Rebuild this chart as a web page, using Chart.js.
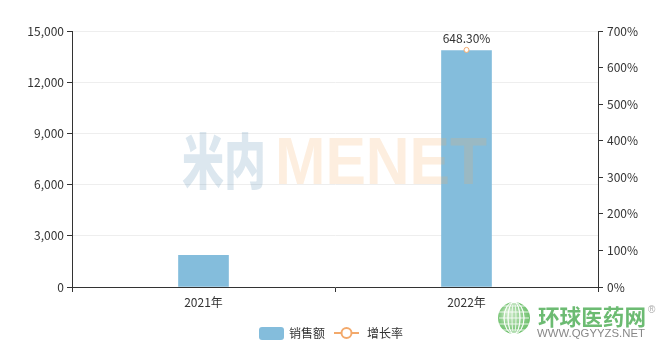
<!DOCTYPE html>
<html><head><meta charset="utf-8">
<script src="https://cdn.jsdelivr.net/npm/chart.js@4"></script>
<style>html,body{margin:0;padding:0;background:#fff}#wrap{width:669px;height:354px;position:relative}</style>
</head><body><div id="wrap"><canvas id="c" width="669" height="354"></canvas></div>
<script>
const categories = ['2021年', '2022年'];
const salesValues = [1850, 13850];
const growthValues = [null, 648.30];
const seriesNames = ['销售额', '增长率'];
const leftTicks = [0, 3000, 6000, 9000, 12000, 15000];
const rightTicks = [0, 100, 200, 300, 400, 500, 600, 700];

const FONT = '"Noto Sans CJK SC", "Noto Sans", sans-serif';
const BAR = '#84bddc';
const LINE = '#f3a96b';

const bgPlugin = {
  id: 'bg',
  afterDatasetsDraw(chart) {
    const ctx = chart.ctx;
    ctx.save();
    // watermark (semi-transparent, over the bars)
    ctx.textBaseline = 'alphabetic';
    ctx.font = '900 60px ' + FONT;
    ctx.fillStyle = 'rgba(80,135,175,0.2)';
    let w = ctx.measureText('米内').width;
    ctx.save(); ctx.translate(182, 184); ctx.scale(84 / w, 1); ctx.fillText('米内', 0, 0); ctx.restore();
    ctx.font = 'bold 66px "Liberation Sans", Arial, sans-serif';
    ctx.fillStyle = 'rgba(245,170,95,0.2)';
    w = ctx.measureText('MENET').width;
    ctx.save(); ctx.translate(275, 184); ctx.scale(212 / w, 1); ctx.fillText('MENET', 0, 0); ctx.restore();
    ctx.restore();
  },
  afterDraw(chart) {
    const ctx = chart.ctx;
    ctx.save();
    // data label for growth
    const meta = chart.getDatasetMeta(1);
    growthValues.forEach((v, i) => {
      if (v == null) return;
      const p = meta.data[i];
      ctx.font = '12px ' + FONT;
      ctx.fillStyle = '#333';
      ctx.textAlign = 'center';
      ctx.textBaseline = 'bottom';
      ctx.fillText(v.toFixed(2) + '%', p.x, p.y - 5);
    });
    // legend
    ctx.textAlign = 'left';
    ctx.textBaseline = 'middle';
    ctx.font = '12px ' + FONT;
    ctx.fillStyle = BAR;
    ctx.beginPath();
    ctx.roundRect(259, 327, 25, 13, 3);
    ctx.fill();
    ctx.fillStyle = '#333';
    ctx.fillText(seriesNames[0], 289, 333);
    ctx.strokeStyle = LINE; ctx.lineWidth = 2;
    ctx.beginPath(); ctx.moveTo(334, 333); ctx.lineTo(359, 333); ctx.stroke();
    ctx.fillStyle = '#fff';
    ctx.beginPath(); ctx.arc(346.5, 333, 5, 0, Math.PI * 2); ctx.fill(); ctx.stroke();
    ctx.fillStyle = '#333';
    ctx.fillText(seriesNames[1], 367, 333);
    // logo
    const g = ctx.createRadialGradient(508, 312, 2, 514, 318, 17);
    g.addColorStop(0, '#c8e8c4'); g.addColorStop(1, '#6cbf6a');
    ctx.fillStyle = g;
    ctx.beginPath(); ctx.arc(514, 318, 16, 0, Math.PI * 2); ctx.fill();
    ctx.strokeStyle = 'rgba(255,255,255,0.8)'; ctx.lineWidth = 1;
    for (let k = -2; k <= 2; k++) {
      ctx.beginPath(); ctx.ellipse(514, 318, Math.abs(k) * 4 + 2, 16, 0, 0, Math.PI * 2); ctx.stroke();
      ctx.beginPath(); ctx.moveTo(499, 318 + k * 6); ctx.lineTo(529, 318 + k * 6); ctx.stroke();
    }
    ctx.font = 'bold 22px ' + FONT;
    ctx.fillStyle = '#6cbb72';
    ctx.textBaseline = 'alphabetic';
    let w = ctx.measureText('环球医药网').width;
    ctx.save(); ctx.translate(538, 325); ctx.scale(108 / w, 1); ctx.fillText('环球医药网', 0, 0); ctx.restore();
    ctx.font = '11px "Liberation Sans", Arial, sans-serif';
    ctx.fillStyle = '#888';
    w = ctx.measureText('WWW.QGYYZS.NET').width;
    ctx.save(); ctx.translate(537, 337); ctx.scale(108 / w, 1); ctx.fillText('WWW.QGYYZS.NET', 0, 0); ctx.restore();
    ctx.font = '10px sans-serif';
    ctx.fillStyle = '#aaa';
    ctx.fillText('®', 648, 313);
    ctx.restore();
  }
};

new Chart(document.getElementById('c'), {
  data: {
    labels: categories,
    datasets: [
      { type: 'bar', label: seriesNames[0], data: salesValues, backgroundColor: BAR, barThickness: 50, yAxisID: 'y', order: 2 },
      { type: 'line', label: seriesNames[1], data: growthValues, borderColor: LINE, backgroundColor: '#fff',
        borderWidth: 2, pointRadius: 2.5, pointBorderWidth: 1, pointBackgroundColor: '#fff', pointBorderColor: LINE,
        yAxisID: 'y1', order: 1, clip: false, spanGaps: false }
    ]
  },
  options: {
    responsive: false, animation: false, devicePixelRatio: 1,
    layout: { padding: { top: 31, left: 0, right: 0, bottom: 0 } },
    plugins: { legend: { display: false }, tooltip: { enabled: false } },
    scales: {
      x: {
        offset: true,
        grid: { offset: true, drawOnChartArea: false, tickColor: '#333', tickLength: 5 },
        border: { color: '#333' },
        ticks: { color: '#333', font: { size: 12, family: FONT }, padding: 3 },
        afterFit(s) { s.height = 67; }
      },
      y: {
        position: 'left', min: 0, max: 15000,
        afterBuildTicks(s) { s.ticks = leftTicks.map(v => ({ value: v })); },
        grid: { color: '#eeeeee', tickColor: '#333', tickLength: 5 },
        border: { color: '#333' },
        ticks: { color: '#333', font: { size: 12, family: FONT }, padding: 3,
          callback: v => v.toLocaleString('en-US') },
        afterFit(s) { s.width = 72; }
      },
      y1: {
        position: 'right', min: 0, max: 700,
        afterBuildTicks(s) { s.ticks = rightTicks.map(v => ({ value: v })); },
        grid: { drawOnChartArea: false, tickColor: '#333', tickLength: 5 },
        border: { color: '#333' },
        ticks: { color: '#333', font: { size: 12, family: FONT }, padding: 4, callback: v => v + '%' },
        afterFit(s) { s.width = 71; }
      }
    }
  },
  plugins: [bgPlugin]
});
</script></body></html>
